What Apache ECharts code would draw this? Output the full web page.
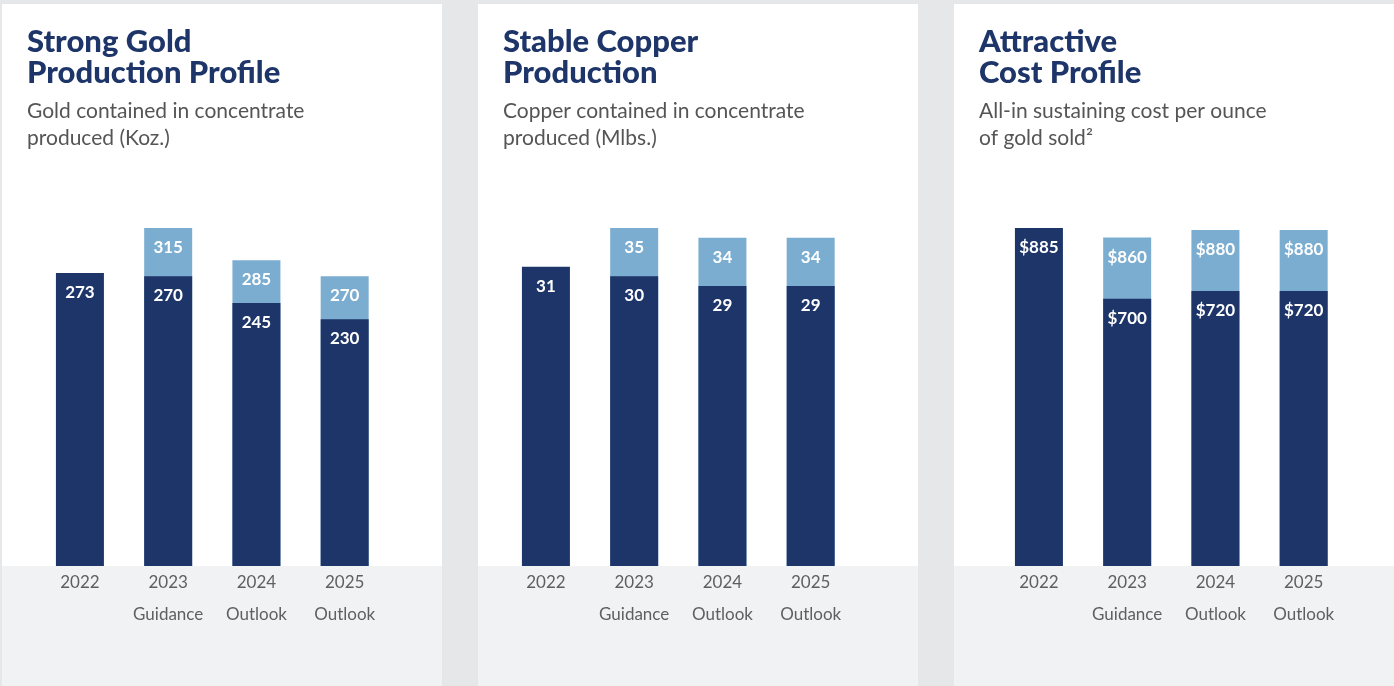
<!DOCTYPE html>
<html>
<head>
<meta charset="utf-8">
<script src="https://cdn.jsdelivr.net/npm/echarts@6/dist/echarts.min.js"></script>
<style>
html,body{margin:0;padding:0;background:#e6e7e9;}
#c{width:1394px;height:686px;}
</style>
</head>
<body>
<div id="c"></div>
<script>
// ---- data ----
var categories = ['2022', '2023\nGuidance', '2024\nOutlook', '2025\nOutlook'];

var goldBase  = [273, 270, 245, 230];
var goldHigh  = [null, 315, 285, 270];

var copperBase = [31, 30, 29, 29];
var copperHigh = [null, 35, 34, 34];

var aiscBase = [885, 700, 720, 720];
var aiscHigh = [null, 860, 880, 880];

var panelTitles = ['Strong Gold\nProduction Profile', 'Stable Copper\nProduction', 'Attractive\nCost Profile'];
var panelSubtitles = ['Gold contained in concentrate\nproduced (Koz.)', 'Copper contained in concentrate\nproduced (Mlbs.)', 'All-in sustaining cost per ounce\nof gold sold\u00B2'];
var labelPrefix = ['', '', '$'];

// ---- layout ----
var NAVY = '#1d3569', LIGHT = '#7aadd0';
var panelX = [2, 478, 954], panelW = 440;
var gridLeft = [35.8, 501.8, 994.8], gridW = 353;
var panels = [
  {base: goldBase, high: goldHigh},
  {base: copperBase, high: copperHigh},
  {base: aiscBase, high: aiscHigh}
];

var graphic = [], titles = [], grids = [], xAxes = [], yAxes = [], series = [];
panels.forEach(function (p, i) {
  graphic.push({type: 'rect', z: -10, shape: {x: panelX[i], y: 4, width: panelW, height: 562}, style: {fill: '#ffffff'}});
  graphic.push({type: 'rect', z: -10, shape: {x: panelX[i], y: 566, width: panelW, height: 120}, style: {fill: '#f1f2f4'}});
  titles.push({
    left: panelX[i] + 25, top: 26, padding: 0, itemGap: 10,
    text: panelTitles[i],
    textStyle: {fontFamily: 'Lato', fontSize: 31, fontWeight: 900, lineHeight: 31, color: NAVY},
    subtext: panelSubtitles[i],
    subtextStyle: {fontFamily: 'Lato', fontSize: 21, lineHeight: 27, color: '#555555'}
  });
  grids.push({left: gridLeft[i], width: gridW, top: 228, height: 338});
  xAxes.push({
    type: 'category', gridIndex: i, data: categories,
    axisLine: {show: false}, axisTick: {show: false},
    axisLabel: {margin: 1, fontFamily: 'Lato', fontSize: 17, lineHeight: 32, color: '#5f5f5f', interval: 0}
  });
  var maxVal = Math.max.apply(null, p.base.concat(p.high.filter(function (v) { return v != null; })));
  yAxes.push({type: 'value', gridIndex: i, min: 0, max: maxVal, show: false, splitLine: {show: false}});
  var pre = labelPrefix[i];
  var lbl = {
    show: true, position: 'insideTop', distance: 11, color: '#ffffff',
    fontFamily: 'Lato', fontSize: 17, fontWeight: 'bold',
    formatter: function (d) { return pre + d.value; }
  };
  series.push({
    type: 'bar', xAxisIndex: i, yAxisIndex: i, data: p.high, barWidth: 48, barGap: '-100%',
    itemStyle: {color: LIGHT}, label: lbl, silent: true, animation: false
  });
  series.push({
    type: 'bar', xAxisIndex: i, yAxisIndex: i, data: p.base, barWidth: 48, barGap: '-100%',
    itemStyle: {color: NAVY}, label: lbl, silent: true, animation: false
  });
});

var chart = echarts.init(document.getElementById('c'), null, {renderer: 'canvas'});
chart.setOption({
  backgroundColor: '#e6e7e9',
  animation: false,
  graphic: graphic,
  title: titles,
  grid: grids,
  xAxis: xAxes,
  yAxis: yAxes,
  series: series
});
</script>
</body>
</html>
